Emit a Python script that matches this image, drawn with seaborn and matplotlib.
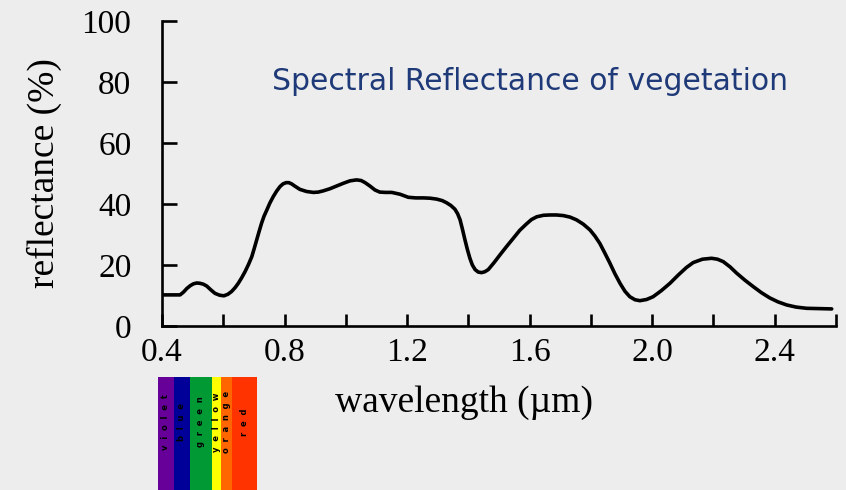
import matplotlib
matplotlib.use("Agg")
import matplotlib.pyplot as plt
import matplotlib.transforms as mtransforms
from matplotlib.patches import Rectangle
import seaborn as sns
import pandas as pd

# Reflectance curve of green vegetation (wavelength in micrometres, reflectance in %)
wavelength = [
    0.400, 0.459, 0.470, 0.481, 0.492, 0.502, 0.513, 0.524, 0.535, 0.546,
    0.560, 0.573, 0.588, 0.602, 0.615, 0.627, 0.638, 0.649, 0.660, 0.671,
    0.682, 0.693, 0.701, 0.709, 0.717, 0.725, 0.733, 0.742, 0.752, 0.763,
    0.774, 0.785, 0.795, 0.805, 0.814, 0.823, 0.836, 0.850, 0.872, 0.894,
    0.910, 0.926, 0.948, 0.970, 0.992, 1.014, 1.035, 1.050, 1.063, 1.080,
    1.095, 1.111, 1.130, 1.150, 1.177, 1.204, 1.228, 1.253, 1.275, 1.297,
    1.315, 1.329, 1.343, 1.356, 1.365, 1.373, 1.381, 1.389, 1.397, 1.405,
    1.413, 1.422, 1.432, 1.443, 1.454, 1.465, 1.484, 1.503, 1.525, 1.547,
    1.568, 1.590, 1.606, 1.623, 1.645, 1.666, 1.688, 1.710, 1.732, 1.753,
    1.775, 1.797, 1.813, 1.829, 1.845, 1.862, 1.878, 1.895, 1.911, 1.927,
    1.944, 1.960, 1.982, 2.003, 2.030, 2.058, 2.085, 2.112, 2.134, 2.164,
    2.194, 2.213, 2.232, 2.254, 2.276, 2.303, 2.330, 2.357, 2.384, 2.411,
    2.439, 2.470, 2.504, 2.545, 2.586,
]
reflectance = [
    10.2, 10.2, 11.1, 12.3, 13.2, 13.8, 14.1, 14.0, 13.7, 13.1,
    11.8, 10.7, 10.1, 9.9, 10.4, 11.3, 12.5, 14.0, 15.8, 17.8,
    20.1, 22.7, 25.4, 28.2, 31.0, 33.7, 36.0, 38.0, 40.3, 42.4,
    44.2, 45.7, 46.6, 47.0, 47.0, 46.6, 45.7, 44.8, 44.1, 43.8,
    43.9, 44.3, 45.0, 45.9, 46.8, 47.6, 47.9, 47.7, 47.0, 45.8,
    44.6, 43.9, 43.8, 43.8, 43.2, 42.2, 42.0, 42.0, 41.9, 41.6,
    41.1, 40.4, 39.5, 38.3, 36.8, 34.8, 31.6, 28.2, 25.0, 22.2,
    20.0, 18.5, 17.7, 17.5, 17.8, 18.5, 20.8, 23.3, 26.1, 28.8,
    31.4, 33.5, 34.9, 35.8, 36.3, 36.4, 36.4, 36.2, 35.7, 34.8,
    33.4, 31.5, 29.5, 27.1, 24.0, 20.6, 17.2, 14.0, 11.4, 9.6,
    8.6, 8.3, 8.7, 9.6, 11.6, 14.0, 16.7, 19.2, 20.8, 21.9,
    22.2, 21.9, 21.1, 19.4, 17.3, 15.0, 12.9, 10.9, 9.2, 7.9,
    6.9, 6.2, 5.8, 5.7, 5.6,
]

# Visible spectrum bands drawn under the axis
band_names = ["violet", "blue", "green", "yellow", "orange", "red"]
band_edges = [0.387, 0.439, 0.491, 0.562, 0.593, 0.629, 0.711]
band_colors = ["#660099", "#000099", "#009933", "#ffff00", "#ff6600", "#ff3300"]

x_ticks = [0.4, 0.8, 1.2, 1.6, 2.0, 2.4]
x_minor = [0.6, 1.0, 1.4, 1.8, 2.2, 2.6]
y_ticks = [0, 20, 40, 60, 80, 100]

df = pd.DataFrame({"wavelength": wavelength, "reflectance": reflectance})

bg = "#ededed"
sns.set_style("ticks")
plt.rcParams["font.family"] = ["Liberation Serif", "DejaVu Serif"]
plt.rcParams["text.color"] = "black"

fig = plt.figure(figsize=(8.46, 4.90), dpi=100, facecolor=bg)
ax = fig.add_axes([162 / 846, 1 - 326 / 490, 674 / 846, 305 / 490])
ax.set_facecolor(bg)

sns.lineplot(data=df, x="wavelength", y="reflectance", ax=ax,
             color="black", linewidth=2.6, estimator=None, sort=False)
for line in ax.get_lines():
    line.set_solid_joinstyle("round")
    line.set_solid_capstyle("round")

ax.set_xlim(0.4, 2.6)
ax.set_ylim(0, 100)
ax.set_xticks(x_ticks)
ax.set_xticks(x_minor, minor=True)
ax.set_xticklabels([f"{t:.1f}" for t in x_ticks])
ax.set_yticks(y_ticks)
ax.set_yticklabels([str(t) for t in y_ticks])
ax.set_xlabel("")
ax.set_ylabel("")

for side in ("top", "right"):
    ax.spines[side].set_visible(False)
for side in ("left", "bottom"):
    ax.spines[side].set_linewidth(1.9)
    ax.spines[side].set_color("black")

ax.tick_params(axis="x", which="both", direction="in", length=9, width=1.9,
               colors="black", labelsize=24, pad=8)
ax.tick_params(axis="y", which="major", direction="in", length=11, width=1.9,
               colors="black", labelsize=24, pad=22)

fig.text(44 / 846, 1 - 173 / 490, "reflectance (%)", rotation=90,
         ha="center", va="center", fontsize=27, color="black")
fig.text(464 / 846, 1 - 403 / 490, "wavelength (\u00b5m)",
         ha="center", va="center", fontsize=27, color="black")

fig.text(272 / 846, 1 - 81 / 490, "Spectral Reflectance of vegetation",
         ha="left", va="center", fontsize=21.5, color="#1f3a78",
         family="DejaVu Sans")

# Colour strip of the visible spectrum: x in wavelength, y in figure units
trans = mtransforms.blended_transform_factory(ax.transData, fig.transFigure)
strip_top = 1 - 377 / 490
for name, lo, hi, col in zip(band_names, band_edges[:-1], band_edges[1:], band_colors):
    fig.patches.append(Rectangle((lo, 0), hi - lo, strip_top, transform=trans,
                                 facecolor=col, edgecolor="none", clip_on=False))
    fig.text((lo + hi) / 2, 1 - 422 / 490, "  ".join(name), transform=trans,
             rotation=90, ha="center", va="center", fontsize=6, color="black",
             fontweight="bold", family="DejaVu Sans")

fig.savefig("out.png", dpi=100, facecolor=bg)
